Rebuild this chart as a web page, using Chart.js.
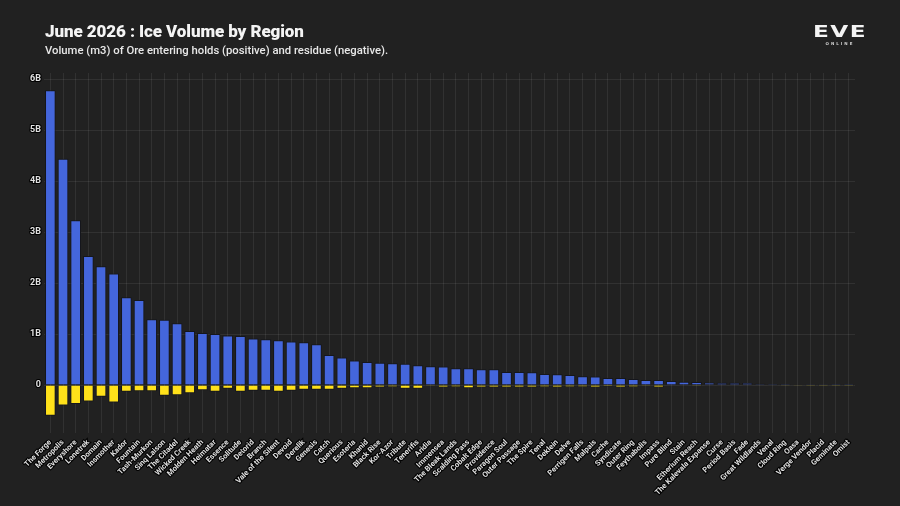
<!DOCTYPE html>
<html lang="en">
<head>
<meta charset="UTF-8">
<title>June 2026 : Ice Volume by Region</title>
<script src="https://cdn.jsdelivr.net/npm/chart.js"></script>
<style>
    html, body { margin: 0; padding: 0; background: #212121; }
    #wrap { position: relative; width: 900px; height: 506px; overflow: hidden; }
    #chart { position: absolute; left: 0; top: 0; }
    .title { position: absolute; left: 45px; top: 21px; color: #f4f4f4;
        font: 900 17px 'Roboto', sans-serif; letter-spacing: -0.1px; }
    .subtitle { position: absolute; left: 45px; top: 44px; color: #e8e8e8;
        font: 500 11.3px 'Roboto', sans-serif; }
    .logo { position: absolute; left: 813px; top: 24px; width: 54px; text-align: center; color: #f4f4f4; }
    .logo .eve { font: bold 16px 'DejaVu Sans', sans-serif; letter-spacing: 1px; line-height: 15px;
        transform: scaleX(1.45); }
    .logo .online { font: bold 4px 'DejaVu Sans', sans-serif; letter-spacing: 2px; margin-top: 2px; color: #cfcfcf; }
</style>
</head>
<body>
<div id="wrap">
    <canvas id="chart" width="900" height="506"></canvas>
    <div class="title">June 2026 : Ice Volume by Region</div>
    <div class="subtitle">Volume (m3) of Ore entering holds (positive) and residue (negative).</div>
    <div class="logo"><div class="eve">EVE</div><div class="online">ONLINE</div></div>
</div>

<script>
    // regions, sorted by volume (values in billions of m3)
    const regions = ["The Forge", "Metropolis", "Everyshore", "Lonetrek", "Domain", "Insmother", "Kador", "Fountain",
        "Tash-Murkon", "Sinq Laison", "The Citadel", "Wicked Creek", "Molden Heath", "Heimatar", "Essence", "Solitude",
        "Detorid", "Branch", "Vale of the Silent", "Devoid", "Derelik", "Genesis", "Catch", "Querious", "Esoteria",
        "Khanid", "Black Rise", "Kor-Azor", "Tribute", "Tenerifis", "Aridia", "Immensea", "The Bleak Lands",
        "Scalding Pass", "Cobalt Edge", "Providence", "Paragon Soul", "Outer Passage", "The Spire", "Tenal", "Deklein",
        "Delve", "Perrigen Falls", "Malpais", "Cache", "Syndicate", "Outer Ring", "Feythabolis", "Impass", "Pure Blind",
        "Stain", "Etherium Reach", "The Kalevala Expanse", "Curse", "Period Basis", "Fade", "Great Wildlands", "Venal",
        "Cloud Ring", "Oasa", "Verge Vendor", "Placid", "Geminate", "Omist"];

    const holds = [5.78, 4.44, 3.23, 2.53, 2.33, 2.19, 1.72, 1.67, 1.29, 1.28,
        1.21, 1.06, 1.02, 1.00, 0.97, 0.96, 0.915, 0.90, 0.88, 0.855,
        0.84, 0.80, 0.59, 0.54, 0.48, 0.45, 0.44, 0.43, 0.42, 0.39,
        0.37, 0.365, 0.33, 0.33, 0.31, 0.31, 0.255, 0.255, 0.25, 0.215,
        0.21, 0.195, 0.175, 0.17, 0.137, 0.137, 0.118, 0.098, 0.098, 0.078,
        0.065, 0.059, 0.052, 0.046, 0.046, 0.04, 0.026, 0.02, 0.02, 0.013,
        0.007, 0.006, 0.003, 0.002];

    const residue = [-0.60, -0.40, -0.37, -0.32, -0.23, -0.34, -0.13, -0.12, -0.12, -0.21,
        -0.20, -0.16, -0.10, -0.13, -0.07, -0.13, -0.11, -0.11, -0.13, -0.11,
        -0.09, -0.09, -0.09, -0.07, -0.06, -0.06, -0.05, -0.04, -0.07, -0.07,
        -0.02, -0.045, -0.04, -0.06, -0.045, -0.05, -0.045, -0.045, -0.05, -0.04,
        -0.045, -0.04, -0.035, -0.045, -0.03, -0.045, -0.04, -0.02, -0.045, -0.01,
        -0.005, -0.02, -0.005, -0.004, -0.004, -0.003, -0.01, -0.003, -0.002, -0.002,
        -0.001, -0.001, -0.001, -0.001];

    const yTicks = [0, 1, 2, 3, 4, 5, 6];

    const gridColor = "rgba(255,255,255,0.075)";

    new Chart(document.getElementById("chart"), {
        type: "bar",
        data: {
            labels: regions,
            datasets: [{
                label: "Entering holds",
                data: holds,
                backgroundColor: "#4466dc",
                borderColor: "#15161c",
                borderWidth: 1
            }, {
                label: "Residue",
                data: residue,
                backgroundColor: "#ffe11a",
                borderColor: "#15161c",
                borderWidth: 1
            }]
        },
        options: {
            responsive: false,
            animation: false,
            layout: { padding: { top: 73, right: 45, left: 0, bottom: 0 } },
            datasets: { bar: { barPercentage: 0.84, categoryPercentage: 1.0 } },
            plugins: {
                legend: { display: false },
                tooltip: { enabled: false }
            },
            scales: {
                x: {
                    stacked: true,
                    grid: { color: gridColor, offset: false, drawTicks: false },
                    border: { display: false },
                    ticks: {
                        autoSkip: false,
                        maxRotation: 45,
                        minRotation: 45,
                        padding: 5,
                        color: "#e0e0e0",
                        textStrokeColor: "#000",
                        textStrokeWidth: 2.2,
                        font: { family: "Roboto", weight: "bold", size: 7.6 }
                    },
                    afterFit: (scale) => { scale.height = 73; }
                },
                y: {
                    stacked: true,
                    min: -0.94,
                    max: 6.12,
                    grid: { color: gridColor, drawTicks: false },
                    border: { display: false },
                    afterBuildTicks: (axis) => {
                        axis.ticks = yTicks.map(v => ({ value: v }));
                    },
                    ticks: {
                        padding: 3,
                        color: "#e0e0e0",
                        textStrokeColor: "#000",
                        textStrokeWidth: 2.2,
                        font: { family: "Roboto", weight: "bold", size: 9 },
                        callback: (v) => v === 0 ? "0" : v + "B"
                    },
                    afterFit: (scale) => { scale.width = 44; }
                }
            }
        }
    });
</script>
</body>
</html>
